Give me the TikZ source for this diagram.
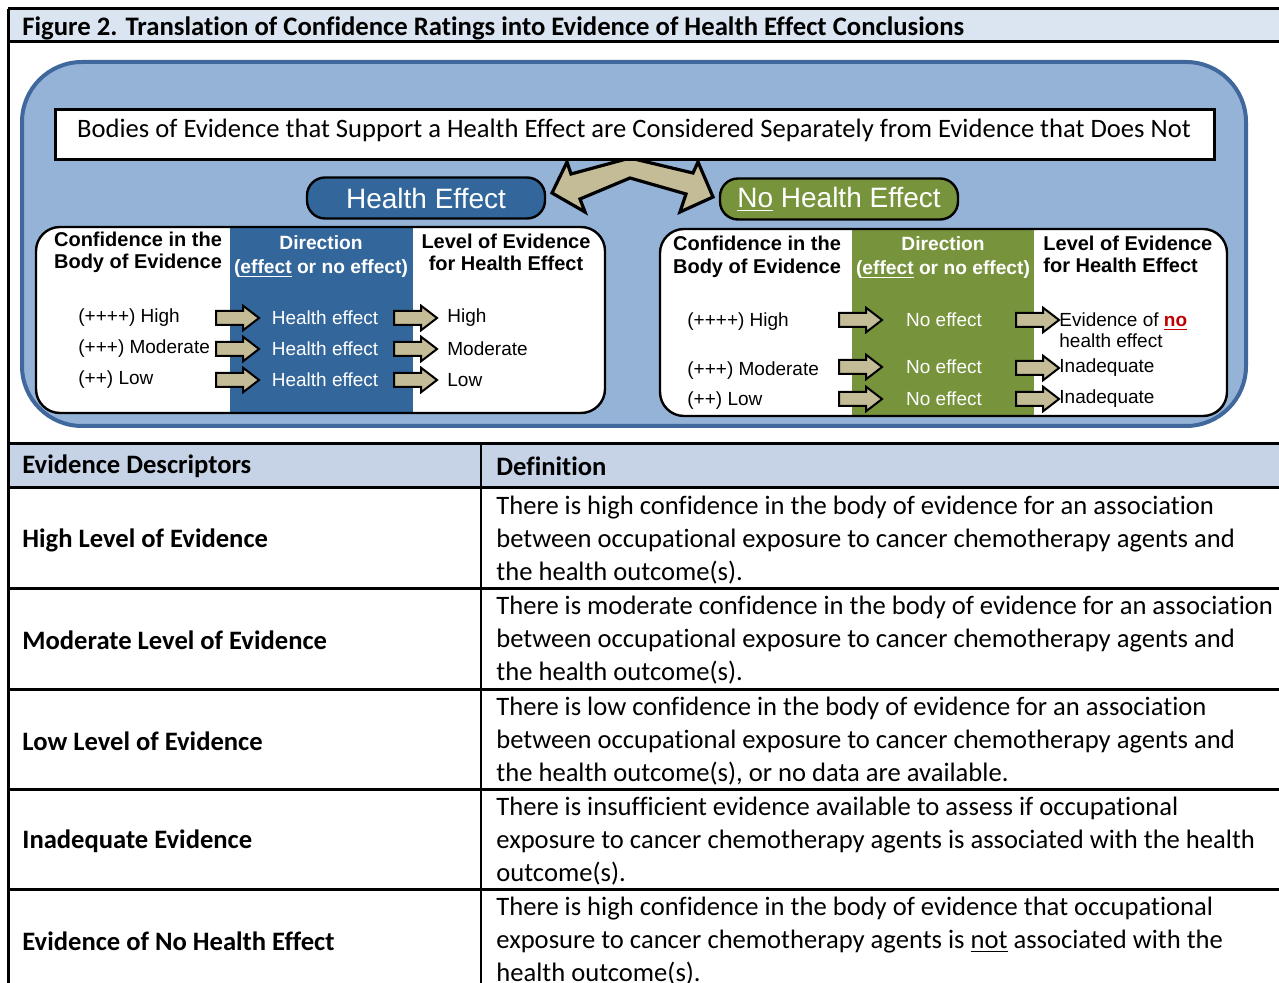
\documentclass[tikz,border=0pt]{standalone}
\usepackage{fontspec}
\setmainfont[Ligatures=NoCommon]{Carlito}
\newfontfamily\arialf{Liberation Sans}
\usetikzlibrary{shapes.arrows}
\definecolor{titleband}{HTML}{DBE5F1}
\definecolor{hdrband}{HTML}{C6D3E6}
\definecolor{panelbg}{HTML}{95B3D7}
\definecolor{panelrim}{HTML}{40689C}
\definecolor{hebl}{HTML}{33669A}
\definecolor{nogr}{HTML}{77933C}
\definecolor{tanar}{HTML}{C4BC96}
\definecolor{nored}{HTML}{C00000}

\tikzset{
  barrow/.style={single arrow, draw=black, line width=1pt, fill=tanar,
    minimum height=21.5pt, inner xsep=0pt, inner ysep=3pt,
    single arrow head extend=2.6pt, single arrow tip angle=75},
  pill/.style={draw=black, line width=1.2pt, rounded corners=9pt,
    minimum width=119pt, minimum height=20.5pt, text=white,
    font=\arialf\fontsize{14}{16}\selectfont},
  colhdr/.style={font=\arialf\bfseries\fontsize{10}{11}\selectfont, align=center, inner sep=0pt},
  rowtxt/.style={font=\arialf\fontsize{9.5}{10.5}\selectfont, inner sep=0pt},
  desc/.style={font=\bfseries\fontsize{13.3}{16.5}\selectfont, anchor=west, inner sep=0pt},
  defn/.style={font=\fontsize{13.3}{16.5}\selectfont, anchor=west, align=left, inner sep=0pt},
  rule/.style={line width=1.5pt}
}

\begin{document}
\begin{tikzpicture}[x=0.5pt, y=-0.5pt]
  \useasboundingbox (0,0) rectangle (1279,983);

  % frame and title
  \fill[titleband] (8,9) rectangle (1279,42);
  \fill[hdrband] (8,444) rectangle (1279,488);
  \node (title) [font=\bfseries\fontsize{13.35}{15}\selectfont, anchor=west, inner sep=0pt] at (22,28)
    {Figure 2. Translation of Confidence Ratings into Evidence of Health Effect Conclusions};

  % big container
  \draw[line width=2pt, draw=panelrim, fill=panelbg, rounded corners=30pt] (22,62) rectangle (1246,426);

  % double arrow between the two pills
  \draw[fill=tanar, line width=1.6pt]
    (552,193) -- (567,162) -- (571,174) -- (630,158) -- (693,173) -- (698,162)
    -- (713,197) -- (680,212) -- (686,194) -- (630,178) -- (580,199) -- (585,212) -- cycle;

  \node (sep) [draw, line width=1.5pt, fill=white, minimum width=579.5pt, minimum height=25pt, inner sep=0pt] at (634.5,135) {};
  \node (sep-t) [font=\fontsize{13.3}{15}\selectfont, inner sep=0pt] at (634,130)
    {Bodies of Evidence that Support a Health Effect are Considered Separately from Evidence that Does Not};

  \node (he) [pill, fill=hebl] at (426,198) {Health Effect};
  \node (nhe) [pill, fill=nogr] at (839,199) {\underline{No} Health Effect};

  % left panel
  \fill[white, rounded corners=12pt] (36,227) rectangle (605,413);
  \fill[hebl] (230,227) rectangle (413,413);
  \draw[line width=1.2pt, rounded corners=12pt] (36,227) rectangle (605,413);

  \node (l-h1) [colhdr] at (138,252) {Confidence in the\\Body of Evidence};
  \node (l-h2) [colhdr, text=white, font=\arialf\bfseries\fontsize{9.6}{12}\selectfont] at (321,257) {Direction\\(\underline{effect} or no effect)};
  \node (l-h3) [colhdr] at (506,252) {Level of Evidence\\for Health Effect};

  \node (l-1-1) [rowtxt, anchor=west] at (78,318) {(++++) High};
  \node (l-2-1) [rowtxt, anchor=west] at (78,349) {(+++) Moderate};
  \node (l-3-1) [rowtxt, anchor=west] at (78,380) {(++) Low};
  \node (l-1-a) [barrow] at (233,318) {};
  \node (l-2-a) [barrow] at (233,349) {};
  \node (l-3-a) [barrow] at (233,380) {};
  \node (l-1-2) [rowtxt, text=white] at (325,318) {Health effect};
  \node (l-2-2) [rowtxt, text=white] at (325,349) {Health effect};
  \node (l-3-2) [rowtxt, text=white] at (325,380) {Health effect};
  \node (l-1-b) [barrow] at (411,318) {};
  \node (l-2-b) [barrow] at (411,349) {};
  \node (l-3-b) [barrow] at (411,380) {};
  \node (l-1-3) [rowtxt, anchor=west] at (447,318) {High};
  \node (l-2-3) [rowtxt, anchor=west] at (447,349) {Moderate};
  \node (l-3-3) [rowtxt, anchor=west] at (447,380) {Low};

  % right panel
  \fill[white, rounded corners=12pt] (660,229) rectangle (1227,416);
  \fill[nogr] (852,229) rectangle (1034,416);
  \draw[line width=1.2pt, rounded corners=12pt] (660,229) rectangle (1227,416);

  \node (r-h1) [colhdr, font=\arialf\bfseries\fontsize{10}{11.5}\selectfont] at (757,257) {Confidence in the\\Body of Evidence};
  \node (r-h2) [colhdr, text=white, font=\arialf\bfseries\fontsize{9.6}{12}\selectfont] at (943,258) {Direction\\(\underline{effect} or no effect)};
  \node (r-h3) [colhdr, align=left, anchor=west] at (1043,254) {Level of Evidence\\for Health Effect};

  \node (r-1-1) [rowtxt, anchor=west] at (687,322) {(++++) High};
  \node (r-2-1) [rowtxt, anchor=west] at (687,371) {(+++) Moderate};
  \node (r-3-1) [rowtxt, anchor=west] at (687,401) {(++) Low};
  \node (r-1-a) [barrow] at (856,320) {};
  \node (r-2-a) [barrow] at (856,367) {};
  \node (r-3-a) [barrow] at (856,399) {};
  \node (r-1-2) [rowtxt, text=white] at (944,320) {No effect};
  \node (r-2-2) [rowtxt, text=white] at (944,367) {No effect};
  \node (r-3-2) [rowtxt, text=white] at (944,399) {No effect};
  \node (r-1-b) [barrow] at (1033,320) {};
  \node (r-2-b) [barrow] at (1033,368) {};
  \node (r-3-b) [barrow] at (1033,399) {};
  \node (r-1-3) [rowtxt, anchor=west, align=left] at (1059,330)
    {Evidence of \textcolor{nored}{\bfseries\underline{no}}\\health effect};
  \node (r-2-3) [rowtxt, anchor=west] at (1059,368) {Inadequate};
  \node (r-3-3) [rowtxt, anchor=west] at (1059,399) {Inadequate};

  % table
  \node (d-0) [desc] at (22,466) {Evidence Descriptors};
  \node (def-0) [desc] at (496,466) {Definition};
  \node (d-1) [desc] at (22,540) {High Level of Evidence};
  \node (def-1) [defn] at (496,540) {There is high confidence in the body of evidence for an association\\between occupational exposure to cancer chemotherapy agents and\\the health outcome(s).};
  \node (d-2) [desc] at (22,640) {Moderate Level of Evidence};
  \node (def-2) [defn] at (496,640) {There is moderate confidence in the body of evidence for an association\\between occupational exposure to cancer chemotherapy agents and\\the health outcome(s).};
  \node (d-3) [desc] at (22,741) {Low Level of Evidence};
  \node (def-3) [defn] at (496,741) {There is low confidence in the body of evidence for an association\\between occupational exposure to cancer chemotherapy agents and\\the health outcome(s), or no data are available.};
  \node (d-4) [desc] at (22,841) {Inadequate Evidence};
  \node (def-4) [defn] at (496,841) {There is insufficient evidence available to assess if occupational\\exposure to cancer chemotherapy agents is associated with the health\\outcome(s).};
  \node (d-5) [desc] at (22,941) {Evidence of No Health Effect};
  \node (def-5) [defn] at (496,941) {There is high confidence in the body of evidence that occupational\\exposure to cancer chemotherapy agents is \underline{not} associated with the\\health outcome(s).};

  % rules
  \draw[rule] (8,9) -- (1279,9);
  \draw[rule] (8,9) -- (8,983);
  \draw[rule] (8,42) -- (1279,42);
  \draw[rule] (8,444) -- (1279,444);
  \draw[rule] (8,488) -- (1279,488);
  \draw[rule] (8,588) -- (1279,588);
  \draw[rule] (8,689) -- (1279,689);
  \draw[rule] (8,789) -- (1279,789);
  \draw[rule] (8,889) -- (1279,889);
  \draw[line width=1pt] (481,444) -- (481,983);
\end{tikzpicture}
\end{document}
